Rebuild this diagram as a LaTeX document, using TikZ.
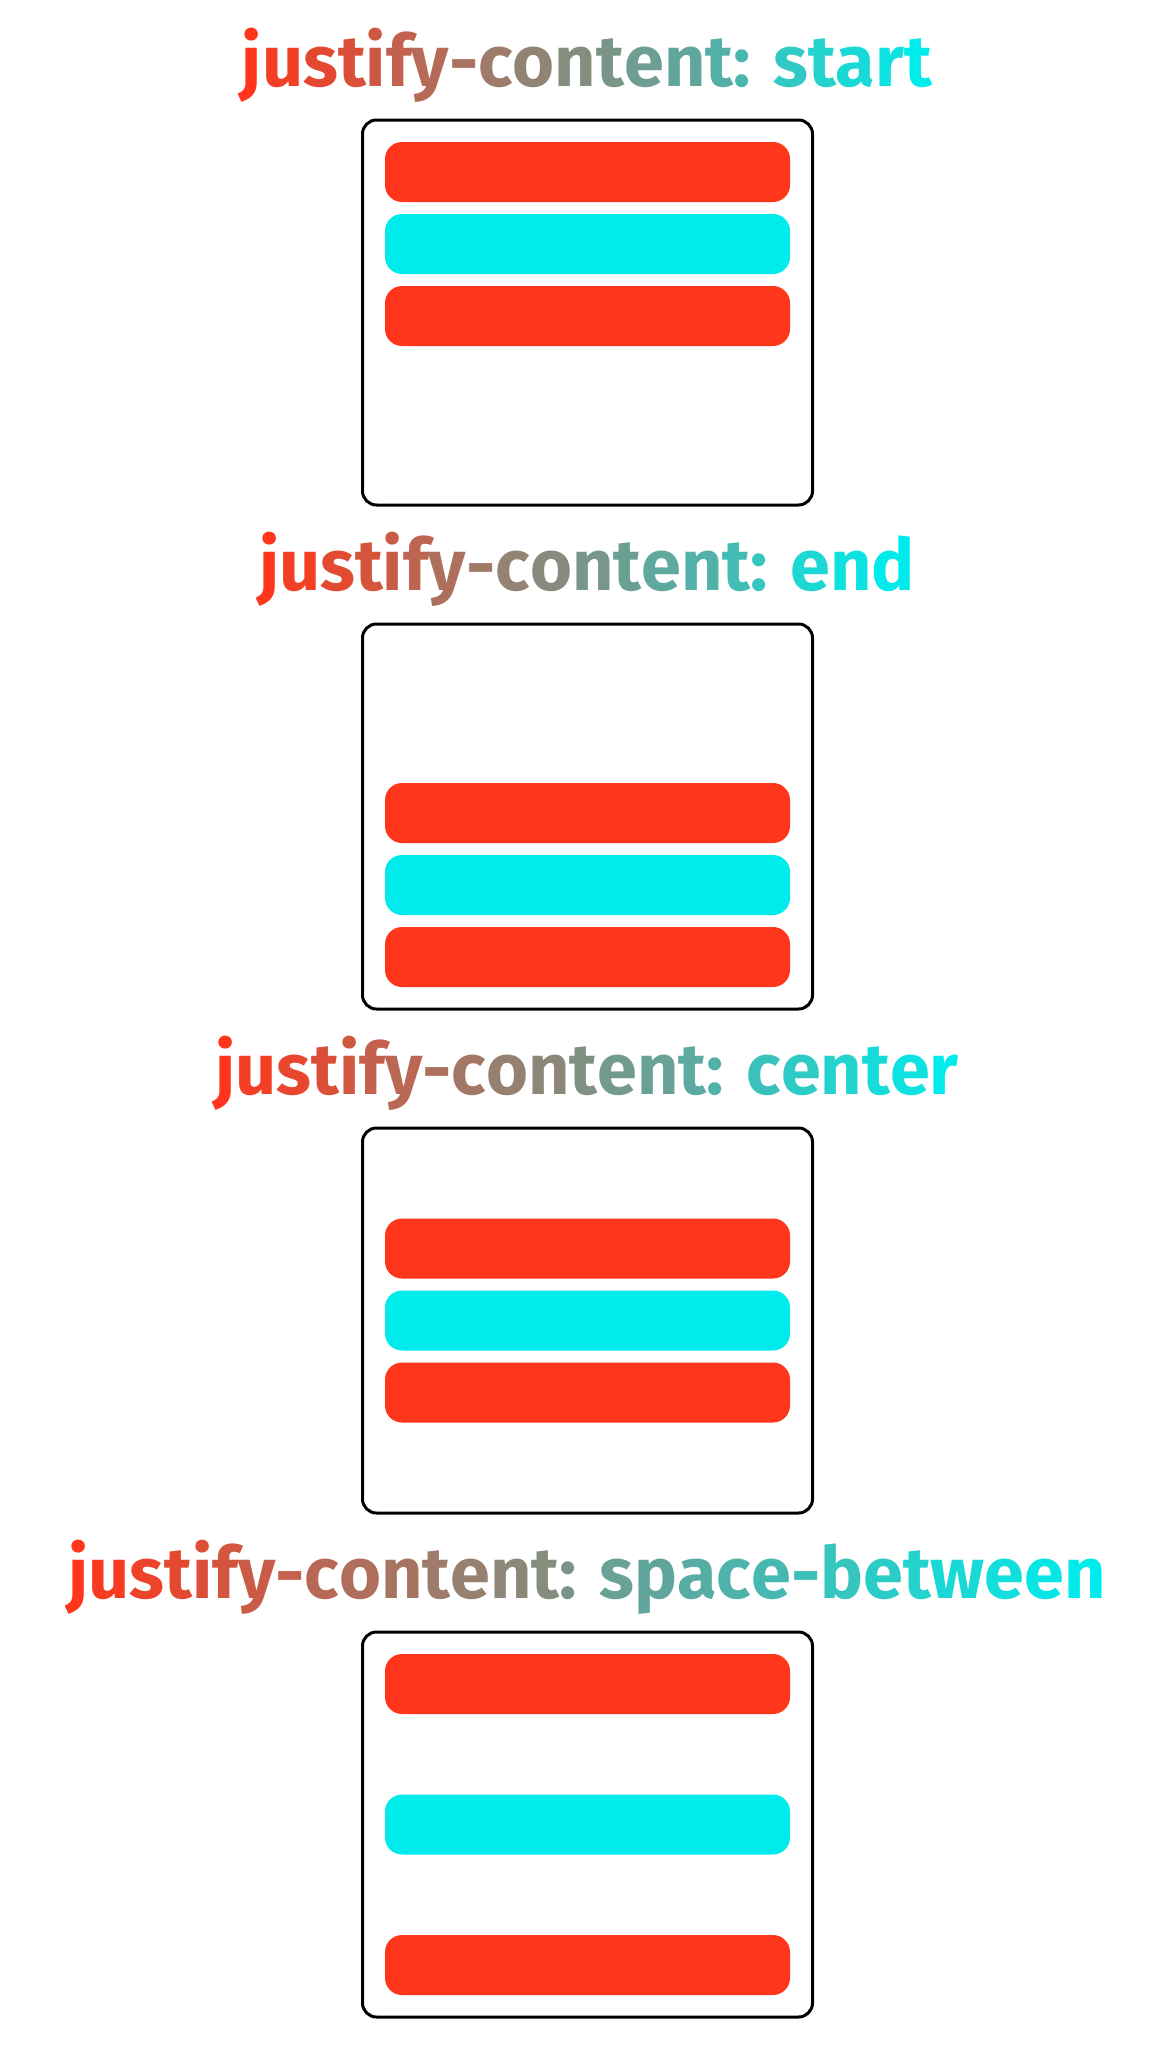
\documentclass[tikz,border=0pt]{standalone}
\usepackage{fontspec}
\setmainfont{Fira Sans}

\definecolor{jcred}{HTML}{FF361B}
\definecolor{jccyan}{HTML}{00EBEB}
\newcommand\jcfont{\fontsize{36}{40}\selectfont\bfseries}

% letters run from red to cyan
\ExplSyntaxOn
\NewDocumentCommand\gradtext{m}{
  \str_set:Nx \l_tmpa_str {#1}
  \str_replace_all:Nnn \l_tmpa_str { ~ } { * }
  \int_set:Nn \l_tmpa_int {\str_count:N \l_tmpa_str}
  \int_zero:N \l_tmpb_int
  \str_map_inline:Nn \l_tmpa_str {
    \int_incr:N \l_tmpb_int
    \str_if_eq:nnTF {##1} {*} {~}
      {{\color{jccyan!\int_eval:n{100*(\l_tmpb_int-1)/(\l_tmpa_int-1)}!jcred}##1}}
  }
}
\ExplSyntaxOff

\begin{document}
\begin{tikzpicture}[x=0.5pt,y=-0.5pt,
  panel/.style={draw=black,line width=1.5pt,rounded corners=7pt,fill=white},
  bar/.style={rounded corners=8.5pt},
  ttl/.style={font=\jcfont,inner sep=0pt,anchor=base}]

\useasboundingbox (0,0) rectangle (1170,2061);

\foreach \k/\nm/\txt/\a/\b/\c in {0/start/start/23.5/95.5/167.5,
  1/end/end/160.5/232.5/304.5,
  2/center/center/92/164/236,
  3/between/space-between/23.5/164/304.5}{
\pgfmathsetmacro\o{504*\k}
\node[ttl] (t\nm) at (587,86+\o) {\gradtext{justify-content: \txt}};
% container
\draw[panel] (362.5,120+\o) rectangle (812.5,505+\o);
\fill[bar,jcred] (385,118.5+\a+\o) rectangle (790,178.5+\a+\o);
\fill[bar,jccyan] (385,118.5+\b+\o) rectangle (790,178.5+\b+\o);
\fill[bar,jcred] (385,118.5+\c+\o) rectangle (790,178.5+\c+\o);
}
\end{tikzpicture}
\end{document}
